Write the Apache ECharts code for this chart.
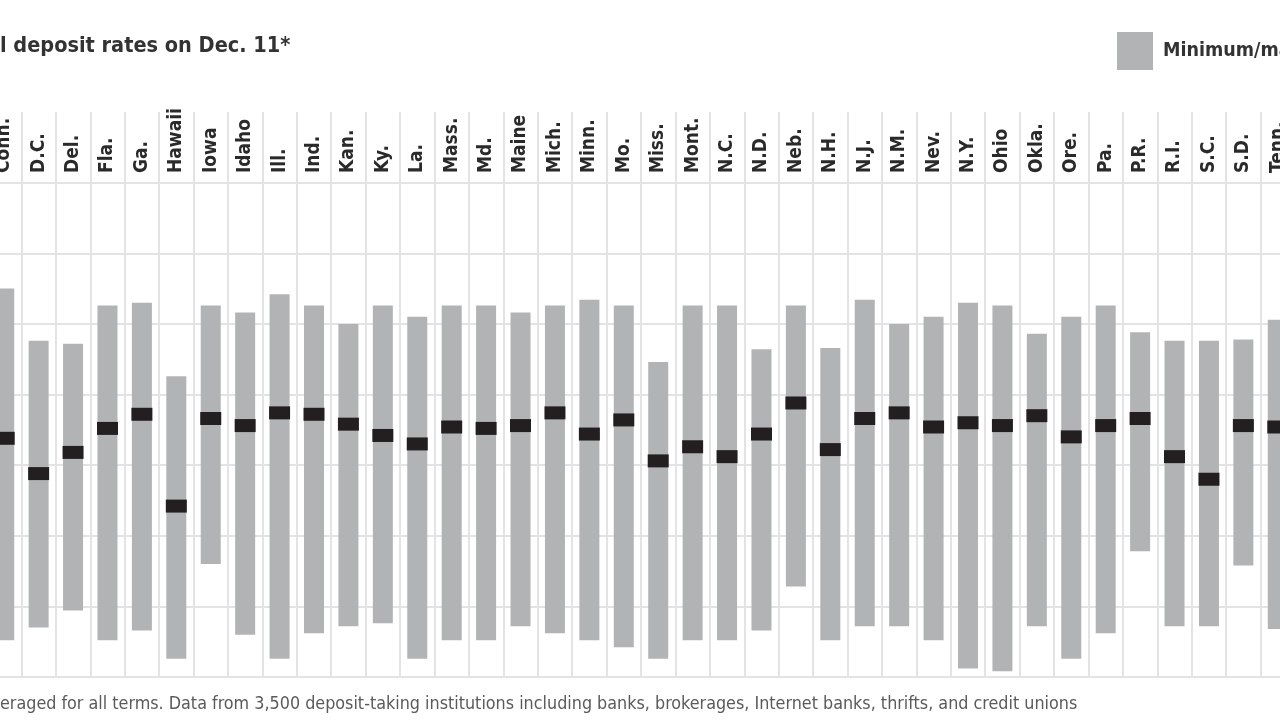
<!DOCTYPE html>
<html><head><meta charset="utf-8">
<script src="https://cdn.jsdelivr.net/npm/echarts@6/dist/echarts.min.js"></script>
<style>html,body{margin:0;padding:0;background:#fff;overflow:hidden;width:1280px;height:720px;position:relative}#chart{position:absolute;left:-13px;top:0;width:1310px;height:720px}</style>
</head><body><div id="chart"></div>
<script>
const states = ['Conn.','D.C.','Del.','Fla.','Ga.','Hawaii','Iowa','Idaho','Ill.','Ind.','Kan.','Ky.','La.','Mass.','Md.','Maine','Mich.','Minn.','Mo.','Miss.','Mont.','N.C.','N.D.','Neb.','N.H.','N.J.','N.M.','Nev.','N.Y.','Ohio','Okla.','Ore.','Pa.','P.R.','R.I.','S.C.','S.D.','Tenn.'];
const maxRates = [2.75,2.38,2.36,2.63,2.65,2.13,2.63,2.58,2.71,2.63,2.50,2.63,2.55,2.63,2.63,2.58,2.63,2.67,2.63,2.23,2.63,2.63,2.32,2.63,2.33,2.67,2.50,2.55,2.65,2.63,2.43,2.55,2.63,2.44,2.38,2.38,2.39,2.53];
const minRates = [0.26,0.35,0.47,0.26,0.33,0.13,0.80,0.30,0.13,0.31,0.36,0.38,0.13,0.26,0.26,0.36,0.31,0.26,0.21,0.13,0.26,0.26,0.33,0.64,0.26,0.36,0.36,0.26,0.06,0.04,0.36,0.13,0.31,0.89,0.36,0.36,0.79,0.34];
const avgRates = [1.69,1.44,1.59,1.76,1.86,1.21,1.83,1.78,1.87,1.86,1.79,1.71,1.65,1.77,1.76,1.78,1.87,1.72,1.82,1.53,1.63,1.56,1.72,1.94,1.61,1.83,1.87,1.77,1.80,1.78,1.85,1.70,1.78,1.83,1.56,1.40,1.78,1.77];
const titleText = 'l deposit rates on Dec. 11*';
const legendText = 'Minimum/maximum';
const noteText = 'eraged for all terms. Data from 3,500 deposit-taking institutions including banks, brokerages, Internet banks, thrifts, and credit unions';

const rangeRates = maxRates.map((v, i) => +(v - minRates[i]).toFixed(2));
const chart = echarts.init(document.getElementById('chart'));
const gridColor = '#e3e3e3';
const condensed = "'DejaVu Sans Condensed', 'DejaVu Sans', sans-serif";
const shift = 13; // chart div starts 13px left of the page
chart.setOption({
  backgroundColor: '#fff',
  animation: false,
  title: [
    { text: titleText, left: shift, top: 35, padding: 0,
      textStyle: { fontFamily: condensed, fontWeight: 'bold', fontSize: 21.5, color: '#333' } },
    { text: noteText, left: shift, top: 695, padding: 0,
      textStyle: { fontFamily: condensed, fontWeight: 'normal', fontSize: 17.8, color: '#5a5a5a' } }
  ],
  legend: {
    data: [legendText], left: 1117 + shift, top: 32, padding: 0, icon: 'rect', itemWidth: 36, itemHeight: 38,
    itemGap: 0, selectedMode: false,
    textStyle: { fontFamily: condensed, fontWeight: 'bold', fontSize: 19.5, color: '#333', padding: [0, 0, 0, 5] }
  },
  grid: { left: 0, right: 2, top: 112, bottom: 43 },
  xAxis: [
    { type: 'category', data: states, position: 'bottom',
      axisLine: { show: true, lineStyle: { color: gridColor, width: 2 } },
      axisTick: { show: false }, axisLabel: { show: false },
      splitLine: { show: true, interval: 0, lineStyle: { color: gridColor, width: 2 } } },
    { type: 'category', data: states, position: 'top', offset: -65,
      axisLine: { show: false }, axisTick: { show: false }, splitLine: { show: false },
      axisLabel: { interval: 0, rotate: -90, margin: 4, fontFamily: condensed, fontWeight: 'bold', fontSize: 19, color: '#2a2a2a' } }
  ],
  yAxis: {
    type: 'value', min: 0, max: 4, interval: 0.5,
    axisLine: { show: false }, axisTick: { show: false }, axisLabel: { show: false },
    splitLine: { show: true, showMaxLine: false, showMinLine: false, lineStyle: { color: gridColor, width: 2 } }
  },
  series: [
    { name: 'base', type: 'bar', stack: 'r', xAxisIndex: 0, data: minRates, barWidth: 20, silent: true,
      itemStyle: { color: 'rgba(0,0,0,0)' } },
    { name: legendText, type: 'bar', stack: 'r', xAxisIndex: 0, data: rangeRates, barWidth: 20,
      itemStyle: { color: '#b2b3b5' } },
    { name: 'Average', type: 'scatter', xAxisIndex: 0, data: avgRates, symbol: 'rect', symbolSize: [21, 13], z: 5,
      itemStyle: { color: '#231f20', opacity: 1 } }
  ]
});
</script></body></html>
